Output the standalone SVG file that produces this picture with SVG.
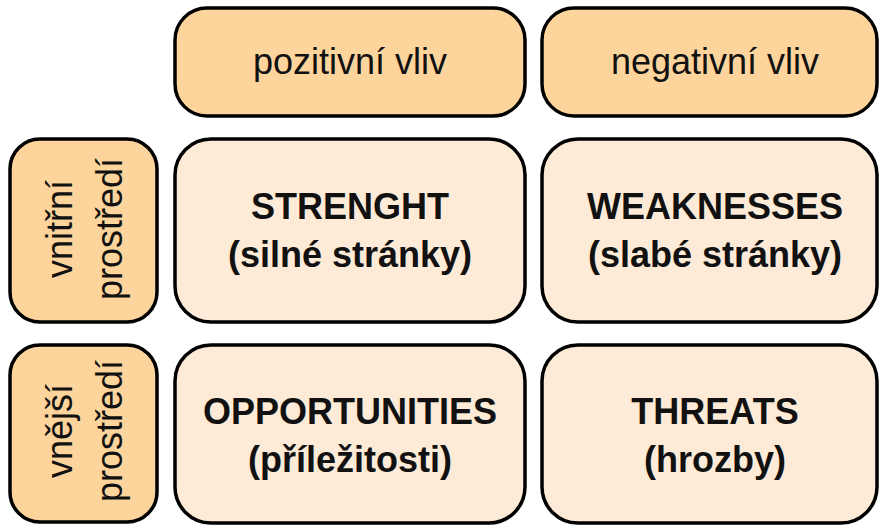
<svg xmlns="http://www.w3.org/2000/svg" width="879" height="526" viewBox="0 0 879 526">
<style>
.hdr{fill:#FDD49B;stroke:#000;stroke-width:3.5}
.cell{fill:#FEEBD7;stroke:#000;stroke-width:3.5}
.t{font-family:"Liberation Sans",Arial,sans-serif;font-size:36px;fill:#111;text-anchor:middle}
.b{font-weight:bold}
</style>
<rect width="879" height="526" fill="#fff"/>
<g id="hdr-pos"><rect class="hdr" x="175" y="8" width="350" height="108" rx="32"/><text class="t" x="350" y="74">pozitivní vliv</text></g>
<g id="hdr-neg"><rect class="hdr" x="542" y="8" width="335" height="108" rx="32"/><text class="t" x="715" y="74">negativní vliv</text></g>
<g id="row-int"><rect class="hdr" x="10" y="139" width="147" height="183" rx="30"/><g transform="translate(83.5,229) rotate(-90)"><text class="t" x="0" y="-12">vnitřní</text><text class="t" x="0" y="38">prostředí</text></g></g>
<g id="row-ext"><rect class="hdr" x="10" y="345" width="147" height="177" rx="30"/><g transform="translate(83.5,431) rotate(-90)"><text class="t" x="0" y="-12">vnější</text><text class="t" x="0" y="38">prostředí</text></g></g>
<g id="strength"><rect class="cell" x="175" y="139" width="350" height="183" rx="36"/><text class="t b" x="350" y="219">STRENGHT</text><text class="t b" x="350" y="267">(silné stránky)</text></g>
<g id="weakness"><rect class="cell" x="542" y="139" width="335" height="183" rx="36"/><text class="t b" x="715" y="219">WEAKNESSES</text><text class="t b" x="715" y="267">(slabé stránky)</text></g>
<g id="opportunity"><rect class="cell" x="175" y="345" width="350" height="178" rx="36"/><text class="t b" x="350" y="424">OPPORTUNITIES</text><text class="t b" x="350" y="472">(příležitosti)</text></g>
<g id="threat"><rect class="cell" x="542" y="345" width="335" height="178" rx="36"/><text class="t b" x="715" y="424">THREATS</text><text class="t b" x="715" y="472">(hrozby)</text></g>
<g id="connectors"/>
</svg>
